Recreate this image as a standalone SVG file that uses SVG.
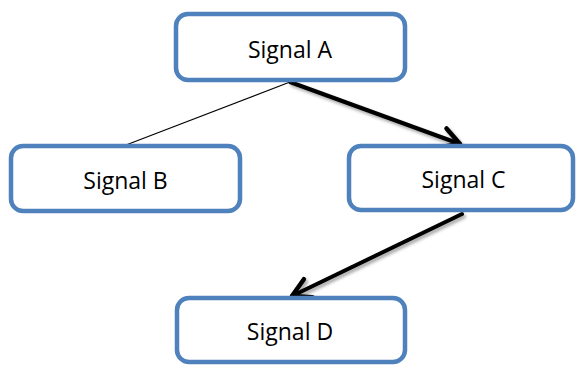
<svg xmlns="http://www.w3.org/2000/svg" width="576" height="367" viewBox="0 0 576 367">
  <defs>
    <style>
      .box { fill: #ffffff; stroke: #4f81bd; stroke-width: 4.5; }
      .label { font-family: "Open Sans", "Liberation Sans", sans-serif; font-size: 23px; fill: #000000; text-anchor: middle; }
      .thin { stroke: #000000; stroke-width: 1.2; fill: none; }
      .thick { stroke: #000000; stroke-width: 4; fill: none; stroke-linecap: round; }
    </style>
    <marker id="chevron" markerUnits="userSpaceOnUse" viewBox="-24 -14 28 28" refX="0" refY="0" markerWidth="28" markerHeight="28" orient="auto" overflow="visible">
      <path d="M-18,-10 L0,0 L-18,10" fill="none" stroke="#000000" stroke-width="4.5" stroke-linecap="round" stroke-linejoin="round"/>
    </marker>
    <filter id="shade" x="-10%" y="-20%" width="130%" height="150%">
      <feDropShadow dx="2" dy="2.5" stdDeviation="1.6" flood-color="#000000" flood-opacity="0.35"/>
    </filter>
  </defs>

  <rect x="0" y="0" width="576" height="367" fill="#ffffff"/>

  <g id="connectors">
    <line class="thin" x1="290" y1="82" x2="126" y2="145"/>
    <g filter="url(#shade)">
      <line class="thick" x1="290" y1="82" x2="460" y2="144" marker-end="url(#chevron)"/>
      <line class="thick" x1="462" y1="214" x2="292" y2="296" marker-end="url(#chevron)"/>
    </g>
  </g>

  <g id="signal-a">
    <rect class="box" x="176" y="14" width="229" height="66" rx="12"/>
    <text class="label" x="290" y="58">Signal A</text>
  </g>

  <g id="signal-b">
    <rect class="box" x="11" y="146" width="229" height="65" rx="12"/>
    <text class="label" x="125.5" y="189">Signal B</text>
  </g>

  <g id="signal-c">
    <rect class="box" x="349" y="146" width="224" height="64" rx="12"/>
    <text class="label" x="463.5" y="188">Signal C</text>
  </g>

  <g id="signal-d">
    <rect class="box" x="177" y="298" width="228" height="64" rx="12"/>
    <text class="label" x="290" y="340">Signal D</text>
  </g>
</svg>
